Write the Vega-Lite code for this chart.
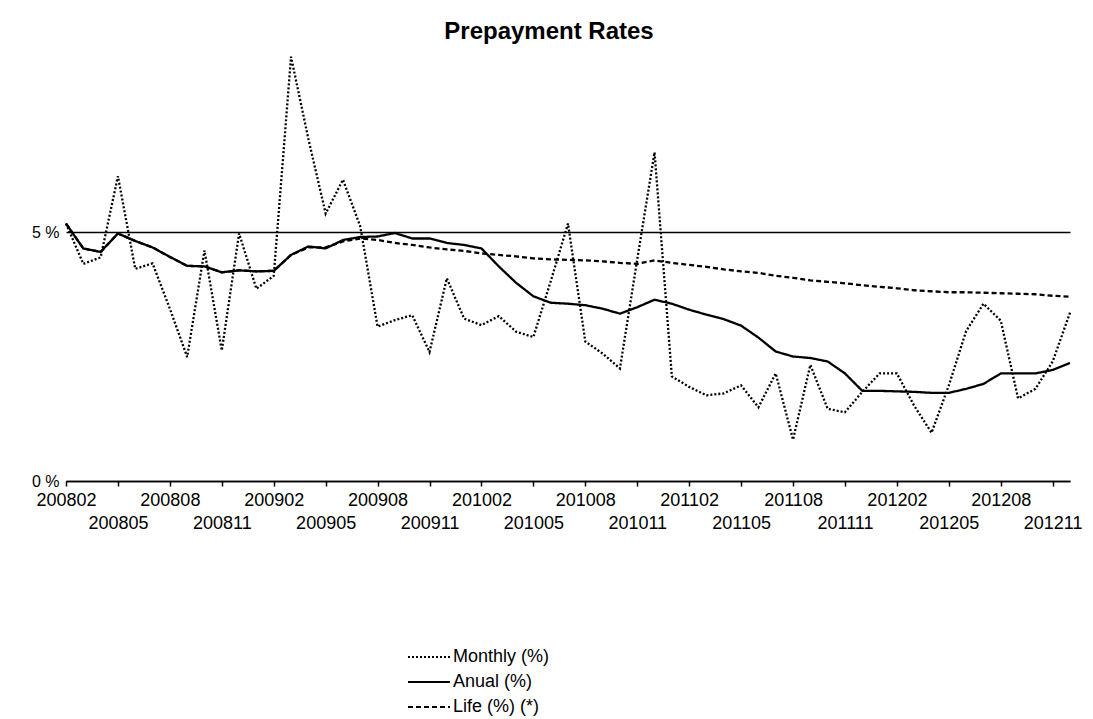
{
  "$schema": "https://vega.github.io/schema/vega-lite/v6.json",
  "width": 1008,
  "height": 433,
  "autosize": {"type": "none"},
  "padding": {"left": 62, "top": 48, "right": 23, "bottom": 238},
  "background": "white",
  "title": {"text": "Prepayment Rates", "font": "Liberation Sans", "fontSize": 24, "fontWeight": "bold", "color": "black", "anchor": "middle", "offset": 4, "dx": -17},
  "config": {"view": {"stroke": null}, "font": "Liberation Sans"},
  "data": {"values": [
    {"period": "200802", "Monthly (%)": 5.17, "Anual (%)": 5.17, "Life (%) (*)": 5.17},
    {"period": "200803", "Monthly (%)": 4.36, "Anual (%)": 4.67, "Life (%) (*)": 4.67},
    {"period": "200804", "Monthly (%)": 4.49, "Anual (%)": 4.60, "Life (%) (*)": 4.60},
    {"period": "200805", "Monthly (%)": 6.12, "Anual (%)": 4.97, "Life (%) (*)": 4.97},
    {"period": "200806", "Monthly (%)": 4.26, "Anual (%)": 4.82, "Life (%) (*)": 4.82},
    {"period": "200807", "Monthly (%)": 4.37, "Anual (%)": 4.69, "Life (%) (*)": 4.69},
    {"period": "200808", "Monthly (%)": 3.46, "Anual (%)": 4.50, "Life (%) (*)": 4.50},
    {"period": "200809", "Monthly (%)": 2.49, "Anual (%)": 4.32, "Life (%) (*)": 4.32},
    {"period": "200810", "Monthly (%)": 4.63, "Anual (%)": 4.31, "Life (%) (*)": 4.31},
    {"period": "200811", "Monthly (%)": 2.62, "Anual (%)": 4.19, "Life (%) (*)": 4.19},
    {"period": "200812", "Monthly (%)": 4.97, "Anual (%)": 4.23, "Life (%) (*)": 4.23},
    {"period": "200901", "Monthly (%)": 3.86, "Anual (%)": 4.21, "Life (%) (*)": 4.21},
    {"period": "200902", "Monthly (%)": 4.12, "Anual (%)": 4.22, "Life (%) (*)": 4.22},
    {"period": "200903", "Monthly (%)": 8.52, "Anual (%)": 4.54, "Life (%) (*)": 4.54},
    {"period": "200904", "Monthly (%)": 6.87, "Anual (%)": 4.71, "Life (%) (*)": 4.69},
    {"period": "200905", "Monthly (%)": 5.37, "Anual (%)": 4.67, "Life (%) (*)": 4.69},
    {"period": "200906", "Monthly (%)": 6.05, "Anual (%)": 4.84, "Life (%) (*)": 4.81},
    {"period": "200907", "Monthly (%)": 5.11, "Anual (%)": 4.90, "Life (%) (*)": 4.87},
    {"period": "200908", "Monthly (%)": 3.10, "Anual (%)": 4.91, "Life (%) (*)": 4.84},
    {"period": "200909", "Monthly (%)": 3.23, "Anual (%)": 4.98, "Life (%) (*)": 4.78},
    {"period": "200910", "Monthly (%)": 3.33, "Anual (%)": 4.87, "Life (%) (*)": 4.74},
    {"period": "200911", "Monthly (%)": 2.59, "Anual (%)": 4.87, "Life (%) (*)": 4.69},
    {"period": "200912", "Monthly (%)": 4.07, "Anual (%)": 4.78, "Life (%) (*)": 4.65},
    {"period": "201001", "Monthly (%)": 3.26, "Anual (%)": 4.74, "Life (%) (*)": 4.62},
    {"period": "201002", "Monthly (%)": 3.13, "Anual (%)": 4.67, "Life (%) (*)": 4.57},
    {"period": "201003", "Monthly (%)": 3.31, "Anual (%)": 4.31, "Life (%) (*)": 4.54},
    {"period": "201004", "Monthly (%)": 3.00, "Anual (%)": 3.98, "Life (%) (*)": 4.51},
    {"period": "201005", "Monthly (%)": 2.89, "Anual (%)": 3.71, "Life (%) (*)": 4.47},
    {"period": "201006", "Monthly (%)": 4.01, "Anual (%)": 3.58, "Life (%) (*)": 4.45},
    {"period": "201007", "Monthly (%)": 5.17, "Anual (%)": 3.56, "Life (%) (*)": 4.44},
    {"period": "201008", "Monthly (%)": 2.80, "Anual (%)": 3.53, "Life (%) (*)": 4.43},
    {"period": "201009", "Monthly (%)": 2.56, "Anual (%)": 3.46, "Life (%) (*)": 4.41},
    {"period": "201010", "Monthly (%)": 2.26, "Anual (%)": 3.36, "Life (%) (*)": 4.38},
    {"period": "201011", "Monthly (%)": 4.45, "Anual (%)": 3.49, "Life (%) (*)": 4.36},
    {"period": "201012", "Monthly (%)": 6.60, "Anual (%)": 3.64, "Life (%) (*)": 4.43},
    {"period": "201101", "Monthly (%)": 2.10, "Anual (%)": 3.56, "Life (%) (*)": 4.38},
    {"period": "201102", "Monthly (%)": 1.89, "Anual (%)": 3.44, "Life (%) (*)": 4.34},
    {"period": "201103", "Monthly (%)": 1.72, "Anual (%)": 3.34, "Life (%) (*)": 4.30},
    {"period": "201104", "Monthly (%)": 1.76, "Anual (%)": 3.25, "Life (%) (*)": 4.25},
    {"period": "201105", "Monthly (%)": 1.92, "Anual (%)": 3.12, "Life (%) (*)": 4.21},
    {"period": "201106", "Monthly (%)": 1.48, "Anual (%)": 2.88, "Life (%) (*)": 4.18},
    {"period": "201107", "Monthly (%)": 2.16, "Anual (%)": 2.60, "Life (%) (*)": 4.12},
    {"period": "201108", "Monthly (%)": 0.83, "Anual (%)": 2.50, "Life (%) (*)": 4.08},
    {"period": "201109", "Monthly (%)": 2.33, "Anual (%)": 2.47, "Life (%) (*)": 4.03},
    {"period": "201110", "Monthly (%)": 1.45, "Anual (%)": 2.40, "Life (%) (*)": 4.00},
    {"period": "201111", "Monthly (%)": 1.38, "Anual (%)": 2.16, "Life (%) (*)": 3.97},
    {"period": "201112", "Monthly (%)": 1.79, "Anual (%)": 1.81, "Life (%) (*)": 3.93},
    {"period": "201201", "Monthly (%)": 2.16, "Anual (%)": 1.81, "Life (%) (*)": 3.90},
    {"period": "201202", "Monthly (%)": 2.16, "Anual (%)": 1.80, "Life (%) (*)": 3.87},
    {"period": "201203", "Monthly (%)": 1.51, "Anual (%)": 1.79, "Life (%) (*)": 3.83},
    {"period": "201204", "Monthly (%)": 0.97, "Anual (%)": 1.77, "Life (%) (*)": 3.81},
    {"period": "201205", "Monthly (%)": 1.92, "Anual (%)": 1.77, "Life (%) (*)": 3.79},
    {"period": "201206", "Monthly (%)": 3.01, "Anual (%)": 1.85, "Life (%) (*)": 3.79},
    {"period": "201207", "Monthly (%)": 3.56, "Anual (%)": 1.95, "Life (%) (*)": 3.78},
    {"period": "201208", "Monthly (%)": 3.22, "Anual (%)": 2.16, "Life (%) (*)": 3.77},
    {"period": "201209", "Monthly (%)": 1.66, "Anual (%)": 2.16, "Life (%) (*)": 3.76},
    {"period": "201210", "Monthly (%)": 1.85, "Anual (%)": 2.16, "Life (%) (*)": 3.75},
    {"period": "201211", "Monthly (%)": 2.40, "Anual (%)": 2.23, "Life (%) (*)": 3.72},
    {"period": "201212", "Monthly (%)": 3.38, "Anual (%)": 2.37, "Life (%) (*)": 3.70}
  ]},
  "transform": [{"fold": ["Monthly (%)", "Anual (%)", "Life (%) (*)"], "as": ["series", "value"]}],
  "mark": {"type": "line", "color": "black", "strokeWidth": 2.3},
  "encoding": {
    "x": {
      "field": "period", "type": "ordinal",
      "scale": {"type": "point", "range": [4, 1008], "padding": 0},
      "axis": {
        "values": ["200802","200805","200808","200811","200902","200905","200908","200911","201002","201005","201008","201011","201102","201105","201108","201111","201202","201205","201208","201211"],
        "title": null, "labelAngle": 0, "labelOverlap": false, "labelBound": false, "labelFlush": false,
        "domainColor": "black", "domainWidth": 1.5, "tickColor": "black", "tickSize": 5, "tickWidth": 1.5,
        "labelFont": "Liberation Sans", "labelFontSize": 18, "labelColor": "black", "grid": false,
        "labelPadding": {"condition": {"test": "slice(datum.value, 4) == '05' || slice(datum.value, 4) == '11'", "value": 28}, "value": 5}
      }
    },
    "y": {
      "field": "value", "type": "quantitative",
      "scale": {"domain": [0, 8.695], "nice": false},
      "axis": {
        "values": [0, 5], "title": null, "labelExpr": "datum.value + ' %'", "domain": false, "ticks": false,
        "grid": true, "gridColor": "black", "gridWidth": 1.6, "gridOpacity": 1,
        "labelFont": "Liberation Sans", "labelFontSize": 16, "labelColor": "black", "labelPadding": 3
      }
    },
    "strokeDash": {
      "field": "series", "type": "nominal",
      "scale": {"domain": ["Monthly (%)", "Anual (%)", "Life (%) (*)"], "range": [[2, 2], [1, 0], [5, 3]]},
      "legend": {
        "orient": "none", "legendX": 351, "legendY": 593, "title": null,
        "symbolType": "M-1.4,0H1.4", "symbolSize": 900, "symbolStrokeColor": "black", "symbolStrokeWidth": 1.8,
        "labelFont": "Liberation Sans", "labelFontSize": 18, "labelColor": "black", "labelOffset": 8, "rowPadding": -1
      }
    }
  }
}
